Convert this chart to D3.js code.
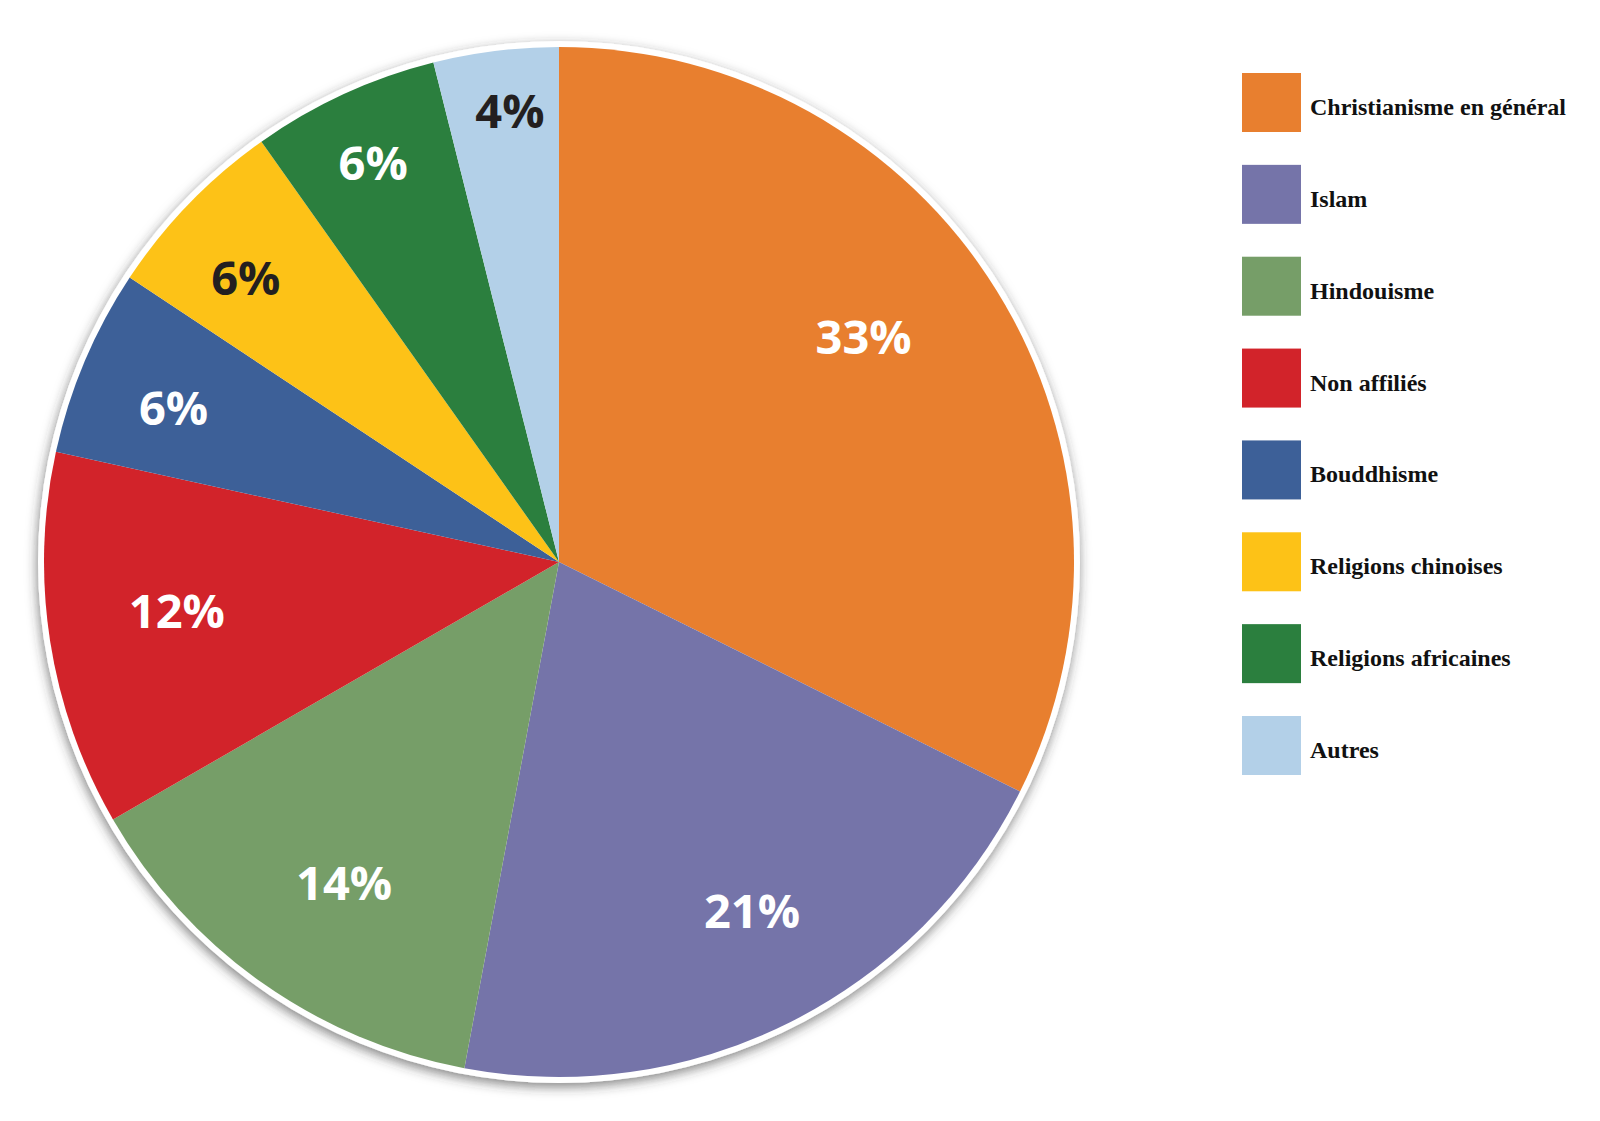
<!DOCTYPE html>
<html><head><meta charset="utf-8">
<script src="https://cdn.jsdelivr.net/npm/d3@7"></script>
<style>html,body{margin:0;padding:0;background:#fff;}svg{display:block;}</style>
</head><body>
<svg id="chart" width="1600" height="1121"></svg>
<script>
// ---- data ----
const categories = ["Christianisme en général","Islam","Hindouisme","Non affiliés","Bouddhisme","Religions chinoises","Religions africaines","Autres"];
const values = [33, 21, 14, 12, 6, 6, 6, 4];
const labels = ["33%","21%","14%","12%","6%","6%","6%","4%"];
// ---- styles / label layout ----
const colors = ["#E87F2F","#7574A9","#769E68","#D2232A","#3D6098","#FDC217","#2B7F3E","#B3D0E8"];
const labelColors = ["#fff","#fff","#fff","#fff","#fff","#231F20","#fff","#231F20"];
const labelRadiusFrac = [0.735, 0.775, 0.75, 0.748, 0.806, 0.821, 0.854, 0.88];
const labelAngleFrac = [0.46, 0.467, 0.47, 0.536, 0.446, 0.41, 0.486, 0.56];

const svg = d3.select("#chart");
const cx = 559, cy = 562, R = 515;

const defs = svg.append("defs");
const f = defs.append("filter").attr("id","sh").attr("x","-10%").attr("y","-10%").attr("width","120%").attr("height","120%");
f.append("feDropShadow").attr("dx",-1).attr("dy",4).attr("stdDeviation",6).attr("flood-color","#333").attr("flood-opacity",0.6);

const g = svg.append("g").attr("transform",`translate(${cx},${cy})`);
g.append("circle").attr("r", R + 6).attr("fill","#fff").attr("filter","url(#sh)");

const pie = d3.pie().sort(null).value(d => d)(values);
const arc = d3.arc().innerRadius(0).outerRadius(R);
g.selectAll("path.slice").data(pie).join("path")
  .attr("class","slice")
  .attr("d", arc)
  .attr("fill", (d,i) => colors[i]);

g.selectAll("text.lbl").data(pie).join("text")
  .attr("class","lbl")
  .attr("transform",(d,i) => {
    const a = d.startAngle + (d.endAngle - d.startAngle) * labelAngleFrac[i];
    const r = R * labelRadiusFrac[i];
    return `translate(${r*Math.sin(a)},${-r*Math.cos(a)})`;
  })
  .attr("text-anchor","middle")
  .attr("dy","0.36em")
  .attr("font-family","'Open Sans', 'DejaVu Sans', sans-serif")
  .attr("font-weight","bold")
  .attr("font-size",47)
  .attr("fill",(d,i) => labelColors[i])
  .text((d,i) => labels[i]);

// ---- legend ----
const ly = d3.scaleLinear().domain([0, categories.length-1]).range([73, 716]);
const leg = svg.append("g");
const items = leg.selectAll("g").data(categories).join("g")
  .attr("transform",(d,i) => `translate(1242,${ly(i)})`);
items.append("rect").attr("width",59).attr("height",59).attr("fill",(d,i)=>colors[i]);
items.append("text")
  .attr("x",68).attr("y",42)
  .attr("font-family","'Liberation Serif', 'Times New Roman', serif")
  .attr("font-weight","bold")
  .attr("font-size",24)
  .attr("fill","#111")
  .text(d => d);
</script>
</body></html>
